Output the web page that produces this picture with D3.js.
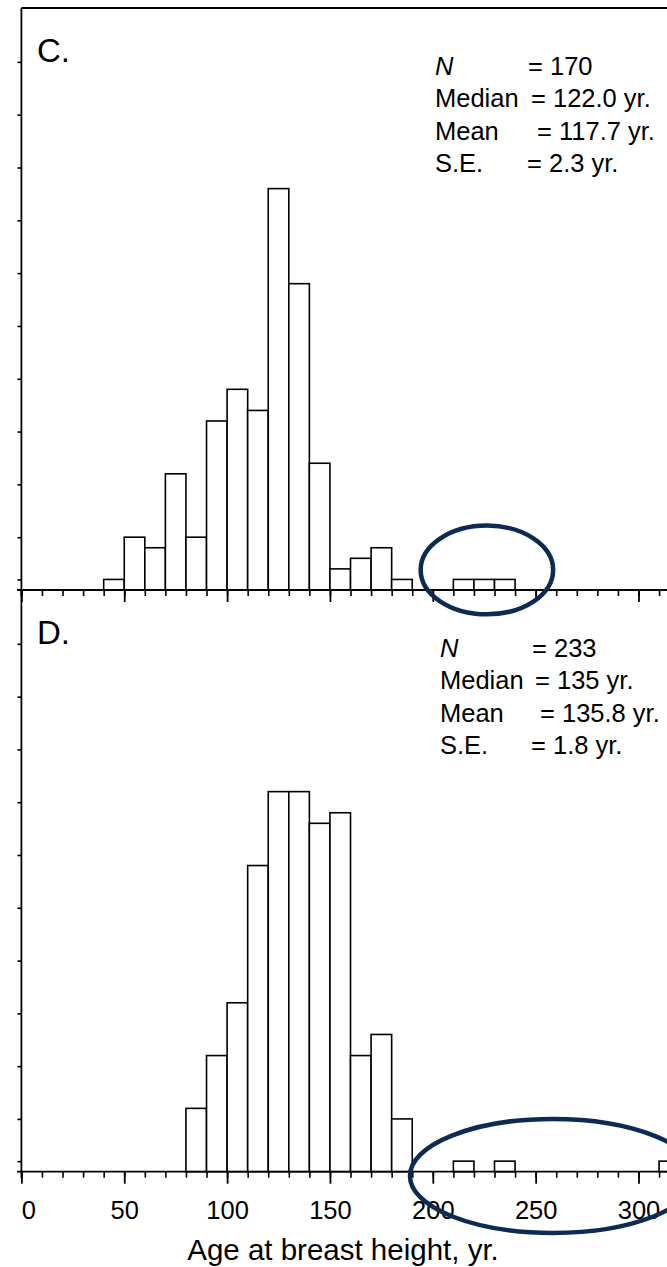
<!doctype html>
<html>
<head>
  <script src="https://d3js.org/d3.v7.min.js"></script>
  <style>
    body { margin: 0; background: #fff; }
    text { font-family: "Liberation Sans", Arial, sans-serif; fill: #000; }
  </style>
</head>
<body>
<script>

  // bin width in years, first bin start and counts for each panel
  var binWidth = 10;
  var startC = 40;
  var countsC = [1, 5, 4, 11, 5, 16, 19, 17, 38, 29, 12, 2, 3, 4, 1, 0, 0, 1, 1, 1];
  var startD = 80;
  var countsD = [6, 11, 16, 29, 36, 36, 33, 34, 11, 13, 5, 0, 0, 1, 0, 1, 0, 0, 0, 0, 0, 0, 0, 1];

  var statsC = [["N", "= 170"], ["Median", "= 122.0 yr."], ["Mean", "= 117.7 yr."], ["S.E.", "= 2.3 yr."]];
  var statsD = [["N", "= 233"], ["Median", "= 135 yr."], ["Mean", "= 135.8 yr."], ["S.E.", "= 1.8 yr."]];

  var xTickLabels = [0, 50, 100, 150, 200, 250, 300];
  var yTicks = [1, 5, 10, 15, 20, 25, 30, 35, 40, 45, 50];

  // highlighted outliers (age, count, half-width in yr, half-height in counts)
  var ringC = [226.3, 1.9, 32.2, 4.2];
  var ringD = [258.4, -0.4, 69.5, 5.4];

  var W = 667, H = 1267;

  var svg = d3.select("body")
      .append("svg")
      .attr("width", W)
      .attr("height", H);

  var x = d3.scaleLinear()
      .domain([0, 300])
      .range([21.4, 638.5]);

  var minorTicks = d3.range(0, 320, 10);

  function panel(top, bottom, start, counts, label, stats, statX, eqX, ring, showLabels) {

    var y = d3.scaleLinear()
        .domain([0, 55.1])
        .range([bottom, top]);

    var g = svg.append("g");

    // bars
    var bins = counts.map(function (c, i) {
      return { x0: start + i * binWidth, n: c };
    }).filter(function (d) { return d.n > 0; });

    g.selectAll(".bar")
        .data(bins)
        .enter()
        .append("rect")
        .attr("x", function (d) { return x(d.x0); })
        .attr("y", function (d) { return y(d.n); })
        .attr("width", function (d) { return x(d.x0 + binWidth) - x(d.x0); })
        .attr("height", function (d) { return y(0) - y(d.n); })
        .attr("fill", "#fff")
        .attr("stroke", "#000")
        .attr("stroke-width", 1.6);

    // x axis: minor ticks
    g.append("g")
        .attr("transform", "translate(0," + y(0) + ")")
        .call(d3.axisBottom(x).tickValues(minorTicks).tickSize(6).tickFormat(""))
        .call(function (a) {
          a.select(".domain").remove();
          a.selectAll("line").attr("stroke-width", 1.6);
        });

    // x axis: major ticks
    g.append("g")
        .attr("transform", "translate(0," + y(0) + ")")
        .call(d3.axisBottom(x).tickValues(xTickLabels).tickSize(12)
          .tickFormat(showLabels ? d3.format("d") : ""))
        .call(function (a) {
          a.select(".domain").remove();
          a.selectAll("line").attr("stroke-width", 1.8);
          a.selectAll("text")
              .attr("font-size", 25.5)
              .attr("dy", "1.25em")
              .attr("dx", function (d) { return d === 0 ? 7 : 0; })
              .style("font-family", "'Liberation Sans', Arial, sans-serif");
        });

    g.append("line")
        .attr("x1", 17).attr("x2", W)
        .attr("y1", y(0)).attr("y2", y(0))
        .attr("stroke", "#000").attr("stroke-width", 1.8);

    // y axis
    g.append("g")
        .attr("transform", "translate(" + x(0) + ",0)")
        .call(d3.axisLeft(y).tickValues(yTicks).tickSize(4).tickFormat(""))
        .call(function (a) {
          a.select(".domain").remove();
          a.selectAll("line").attr("stroke-width", 1.6);
        });

    g.append("line")
        .attr("x1", x(0)).attr("x2", x(0))
        .attr("y1", top).attr("y2", bottom + 6)
        .attr("stroke", "#000").attr("stroke-width", 1.8);

    // panel letter
    g.append("text")
        .attr("x", 37)
        .attr("y", top + 54)
        .attr("font-size", 33)
        .text(label);

    // stats block
    stats.forEach(function (s, i) {
      var ty = top + 67 + i * 32.3;
      g.append("text")
          .attr("x", statX)
          .attr("y", ty)
          .attr("font-size", 25.5)
          .attr("font-style", i === 0 ? "italic" : "normal")
          .text(s[0]);
      g.append("text")
          .attr("x", eqX[i])
          .attr("y", ty)
          .attr("font-size", 25.5)
          .text(s[1]);
    });

    // outlier ring
    g.append("ellipse")
        .attr("cx", x(ring[0]))
        .attr("cy", y(ring[1]))
        .attr("rx", x(ring[2]) - x(0))
        .attr("ry", y(0) - y(ring[3]))
        .attr("fill", "none")
        .attr("stroke", "#0c2a52")
        .attr("stroke-width", 4.5);

    return y;
  }

  // top border of panel C
  svg.append("line")
      .attr("x1", x(0)).attr("x2", W)
      .attr("y1", 8).attr("y2", 8)
      .attr("stroke", "#000").attr("stroke-width", 1.8);

  panel(8, 590, startC, countsC, "C.", statsC, 435, [528, 531, 537, 527], ringC, false);
  panel(590, 1171.7, startD, countsD, "D.", statsD, 440, [532, 535, 540, 531], ringD, true);

  // x axis title
  svg.append("text")
      .attr("x", 343)
      .attr("y", 1260)
      .attr("text-anchor", "middle")
      .attr("font-size", 29.5)
      .text("Age at breast height, yr.");

</script>
</body>
</html>
